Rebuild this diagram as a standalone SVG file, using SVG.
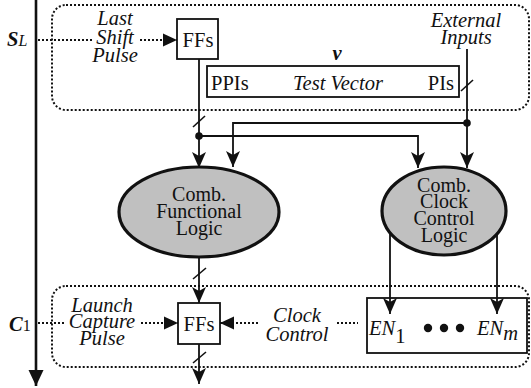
<svg xmlns="http://www.w3.org/2000/svg" width="531" height="388" viewBox="0 0 531 388">
<defs>
<style>
.t{font-family:"Liberation Serif","Times New Roman",serif;font-size:20.5px;fill:#111}
.s{font-size:20px}
.i{font-style:italic}
.b{font-weight:bold}
.m{text-anchor:middle}
.dot{fill:none;stroke:#111;stroke-width:2;stroke-dasharray:2 2}
.ln{fill:none;stroke:#111;stroke-width:1.8}
.box{fill:#fff;stroke:#111;stroke-width:1.8}
.ell{fill:#c0c0c0;stroke:#111;stroke-width:3.2}
.sl{stroke:#111;stroke-width:1.6}
</style>
<marker id="ah" viewBox="0 -8 16 16" refX="16" refY="0" markerWidth="16" markerHeight="16" markerUnits="userSpaceOnUse" orient="auto">
<path d="M0,-7 L16,0 L0,7 L4,0 z" fill="#111"/>
</marker>
<marker id="dh" viewBox="0 -7 14 14" refX="14" refY="0" markerWidth="14" markerHeight="14" markerUnits="userSpaceOnUse" orient="auto">
<path d="M0,-6.5 L14,0 L0,6.5 z" fill="#111"/>
</marker>
<marker id="bh" viewBox="0 -8 16 16" refX="16" refY="0" markerWidth="16" markerHeight="16" markerUnits="userSpaceOnUse" orient="auto">
<path d="M0,-7.5 L16,0 L0,7.5 z" fill="#111"/>
</marker>
</defs>
<rect width="531" height="388" fill="#fff"/>

<g id="regions">
<rect class="dot" x="52" y="5" width="477" height="105" rx="14"/>
<rect class="dot" x="52" y="286" width="477" height="81" rx="14"/>
</g>

<g id="timeline">
<line x1="36" y1="0" x2="36" y2="386" stroke="#111" stroke-width="2.6" marker-end="url(#bh)"/>
<text class="t i b" x="7" y="46" font-size="23">S<tspan font-weight="normal" font-size="16">L</tspan></text>
<text class="t i b" x="9" y="331" font-size="23">C<tspan font-weight="normal" font-style="normal" font-size="16">1</tspan></text>
</g>

<g id="labels">
<text class="t i m" x="115" y="25">Last</text>
<text class="t i m" x="115" y="44">Shift</text>
<text class="t i m" x="115" y="62">Pulse</text>
<text class="t i m" x="466" y="27">External</text>
<text class="t i m" x="466" y="44">Inputs</text>
<text class="t i m" x="102" y="312">Launch</text>
<text class="t i m" x="102" y="328">Capture</text>
<text class="t i m" x="102" y="345">Pulse</text>
<text class="t i m" x="297" y="322">Clock</text>
<text class="t i m" x="297" y="341">Control</text>
</g>

<g id="ffs-top">
<rect class="box" x="177" y="19" width="41" height="40"/>
<text class="t m" x="198" y="47">FFs</text>
</g>

<g id="test-vector">
<rect class="box" x="207" y="66" width="252" height="31"/>
<text class="t" x="211" y="90">PPIs</text>
<text class="t i m" x="338" y="90">Test Vector</text>
<text class="t" x="454" y="90" text-anchor="end">PIs</text>
<text class="t i b m" x="337" y="60">v</text>
</g>

<g id="comb-functional">
<ellipse class="ell" cx="199" cy="212" rx="80" ry="45"/>
<text class="t s m" x="199" y="201">Comb.</text>
<text class="t s m" x="199" y="218">Functional</text>
<text class="t s m" x="199" y="235">Logic</text>
</g>

<g id="comb-clock">
<ellipse class="ell" cx="444" cy="211" rx="62" ry="44"/>
<text class="t s m" x="444" y="192">Comb.</text>
<text class="t s m" x="444" y="208">Clock</text>
<text class="t s m" x="444" y="225">Control</text>
<text class="t s m" x="444" y="242">Logic</text>
</g>

<g id="ffs-bottom">
<rect class="box" x="178" y="303" width="42" height="41"/>
<text class="t m" x="199" y="331">FFs</text>
</g>

<g id="enables">
<rect class="box" x="367" y="298" width="160" height="55"/>
<text class="t i" x="369" y="335">EN<tspan font-style="normal" dy="8">1</tspan></text>
<circle cx="428" cy="328" r="4.2" fill="#111"/>
<circle cx="444" cy="328" r="4.2" fill="#111"/>
<circle cx="460" cy="328" r="4.2" fill="#111"/>
<text class="t i" x="477" y="335">EN<tspan dy="5">m</tspan></text>
</g>

<g id="connectors">
<line class="dot" x1="38" y1="40" x2="92" y2="40"/>
<line class="dot" x1="140" y1="40" x2="177" y2="40" marker-end="url(#dh)"/>
<line class="dot" x1="38" y1="323" x2="64" y2="323"/>
<line class="dot" x1="141" y1="323" x2="178" y2="323" marker-end="url(#dh)"/>
<line class="dot" x1="258" y1="323" x2="220" y2="323" marker-end="url(#dh)"/>
<line class="dot" x1="337" y1="323" x2="358" y2="323"/>

<line class="ln" x1="199" y1="59" x2="199" y2="168" marker-end="url(#ah)"/>
<line class="sl" x1="193" y1="127" x2="205" y2="116"/>
<line class="ln" x1="467" y1="49" x2="467" y2="168" marker-end="url(#ah)"/>
<line class="sl" x1="461" y1="91" x2="473" y2="80"/>
<polyline class="ln" points="467,123 233,123 233,167" marker-end="url(#ah)"/>
<polyline class="ln" points="199,136 418,136 418,168" marker-end="url(#ah)"/>
<circle cx="199" cy="136" r="3.8" fill="#111"/>
<circle cx="467" cy="123" r="3.8" fill="#111"/>

<line class="ln" x1="199" y1="257" x2="199" y2="303" marker-end="url(#ah)"/>
<line class="sl" x1="193" y1="279" x2="206" y2="268"/>
<line class="ln" x1="199" y1="344" x2="199" y2="384" marker-end="url(#ah)"/>
<line class="sl" x1="193" y1="363" x2="206" y2="352"/>

<line class="ln" x1="390" y1="233" x2="390" y2="314" marker-end="url(#ah)"/>
<line class="ln" x1="497" y1="234" x2="497" y2="314" marker-end="url(#ah)"/>
</g>
</svg>
